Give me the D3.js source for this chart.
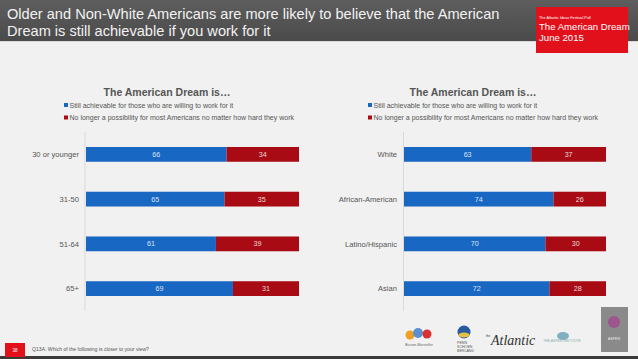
<!DOCTYPE html>
<html><head><meta charset="utf-8">
<script src="https://cdn.jsdelivr.net/npm/d3@7"></script>
<style>html,body{margin:0;padding:0;background:#f1f1f1;}svg{display:block;font-family:"Liberation Sans",Arial,sans-serif;}</style>
</head><body>
<script>
const ageCats = ["30 or younger","31-50","51-64","65+"];
const ageAchievable = [66,65,61,69];
const ageNoLonger = [34,35,39,31];
const raceCats = ["White","African-American","Latino/Hispanic","Asian"];
const raceAchievable = [63,74,70,72];
const raceNoLonger = [37,26,30,28];
const seriesNames = ["Still achievable for those who are willing to work for it","No longer a possibility for most Americans no matter how hard they work"];
const colors = ["#1767c3","#a80b13"];

const W=638,H=359;
const svg=d3.select("body").append("svg").attr("width",W).attr("height",H);
const defs=svg.append("defs");
const g1=defs.append("linearGradient").attr("id","hdr").attr("x1",0).attr("y1",0).attr("x2",0).attr("y2",1);
g1.append("stop").attr("offset","0%").attr("stop-color","#5e5e5e");
g1.append("stop").attr("offset","100%").attr("stop-color","#4a4a4a");
svg.append("rect").attr("width",W).attr("height",H).attr("fill","#f1f1f1");
svg.append("rect").attr("width",W).attr("height",41).attr("fill","url(#hdr)");
svg.append("rect").attr("y",41).attr("width",W).attr("height",1).attr("fill","#d8d8d8");
const title=svg.append("text").attr("fill","#f2f2f2").attr("font-size",14.6);
title.append("tspan").attr("x",7).attr("y",19).text("Older and Non-White Americans are more likely to believe that the American");
title.append("tspan").attr("x",7).attr("y",36).text("Dream is still achievable if you work for it");
// red badge
svg.append("rect").attr("x",536).attr("y",7).attr("width",92).attr("height",46).attr("fill","#e2101b");
svg.append("text").attr("x",539).attr("y",19).attr("fill","#fff").attr("font-size",3.8).text("The Atlantic Ideas Festival Poll");
svg.append("text").attr("x",539).attr("y",30).attr("fill","#fff").attr("font-size",9.6).text("The American Dream");
svg.append("text").attr("x",539).attr("y",41).attr("fill","#fff").attr("font-size",9.6).text("June 2015");

function chart(cfg){
  const {cats,a,b,x0,x1,axisX,labelRight,titleX,legX}=cfg;
  svg.append("text").attr("x",titleX).attr("y",96).attr("text-anchor","middle").attr("font-size",10.5).attr("font-weight","bold").attr("fill","#555").text("The American Dream is…");
  seriesNames.forEach((s,i)=>{
    svg.append("rect").attr("x",legX).attr("y",103+i*12.5).attr("width",4).attr("height",4).attr("fill",colors[i]);
    svg.append("text").attr("x",legX+5.5).attr("y",107.5+i*12.5).attr("font-size",7).attr("fill","#555").text(s);
  });
  const x=d3.scaleLinear().domain([0,100]).range([x0,x1]);
  const y=d3.scaleBand().domain(cats).range([132,311]).paddingInner(0.67).paddingOuter(0.335);
  svg.append("line").attr("x1",axisX).attr("x2",axisX).attr("y1",132).attr("y2",311).attr("stroke","#d9d9d9").attr("stroke-width",1);
  const data=cats.map((c,i)=>({c,a:a[i],b:b[i]}));
  const gs=svg.append("g");
  data.forEach(d=>{
    const segs=[{s:0,e:d.a,col:colors[0],v:d.a},{s:d.a,e:d.a+d.b,col:colors[1],v:d.b}];
    segs.forEach(sg=>{
      gs.append("rect").attr("x",x(sg.s)).attr("y",y(d.c)).attr("width",x(sg.e)-x(sg.s)).attr("height",y.bandwidth()).attr("fill",sg.col);
      gs.append("text").attr("x",(x(sg.s)+x(sg.e))/2).attr("y",y(d.c)+y.bandwidth()/2+2.5).attr("text-anchor","middle").attr("font-size",7.2).attr("fill","#fff").attr("fill-opacity",0.85).text(sg.v);
    });
    svg.append("text").attr("x",labelRight).attr("y",y(d.c)+y.bandwidth()/2+2.7).attr("text-anchor","end").attr("font-size",7.6).attr("fill","#555").text(d.c);
  });
}
chart({cats:ageCats,a:ageAchievable,b:ageNoLonger,x0:86,x1:299,axisX:85,labelRight:79,titleX:167,legX:64});
chart({cats:raceCats,a:raceAchievable,b:raceNoLonger,x0:404,x1:606,axisX:403.5,labelRight:397,titleX:473,legX:368});

// footer
svg.append("rect").attr("x",0).attr("y",356).attr("width",W).attr("height",3).attr("fill","#3a3a3a");
svg.append("rect").attr("x",5).attr("y",343).attr("width",20).attr("height",14).attr("fill","#e2101b");
svg.append("text").attr("x",15).attr("y",352).attr("text-anchor","middle").attr("font-size",4.5).attr("fill","#fff").text("38");
svg.append("text").attr("x",32).attr("y",351).attr("font-size",5.1).attr("fill","#555").text("Q13A. Which of the following is closer to your view?");
// logos (approximate)
const lg=svg.append("g");
lg.append("circle").attr("cx",410).attr("cy",335).attr("r",4.5).attr("fill","#f0a020");
lg.append("circle").attr("cx",418).attr("cy",333).attr("r",5).attr("fill","#5a8fd0");
lg.append("circle").attr("cx",427).attr("cy",334).attr("r",4.5).attr("fill","#d83030");
lg.append("text").attr("x",419).attr("y",346).attr("text-anchor","middle").attr("font-size",3.5).attr("fill","#666").text("Burson-Marsteller");
lg.append("circle").attr("cx",464).attr("cy",332).attr("r",6.5).attr("fill","#2a5aa0");
lg.append("ellipse").attr("cx",464).attr("cy",335).attr("rx",5.5).attr("ry",2.5).attr("fill","#e8c040");
["PENN","SCHOEN","BERLAND"].forEach((t,i)=>lg.append("text").attr("x",457).attr("y",344+i*3.8).attr("font-size",3.6).attr("fill","#555").text(t));
lg.append("text").attr("x",491).attr("y",345).attr("font-size",14).attr("font-style","italic").attr("font-family","Liberation Serif,serif").attr("fill","#333").text("Atlantic");
lg.append("text").attr("x",486).attr("y",337).attr("font-size",3).attr("fill","#333").text("the");
lg.append("ellipse").attr("cx",563).attr("cy",336).attr("rx",6).attr("ry",4).attr("fill","#7fb0c0");
lg.append("text").attr("x",562).attr("y",342).attr("text-anchor","middle").attr("font-size",3.4).attr("fill","#8aa").text("THE ASPEN INSTITUTE");
lg.append("rect").attr("x",601).attr("y",307).attr("width",27).attr("height",45).attr("fill","#8a8a8a");
lg.append("circle").attr("cx",614).attr("cy",322).attr("r",6).attr("fill","#a04890").attr("opacity",0.8);
lg.append("text").attr("x",614).attr("y",340).attr("text-anchor","middle").attr("font-size",3.5).attr("fill","#eee").text("ASPEN");
</script>
</body></html>
